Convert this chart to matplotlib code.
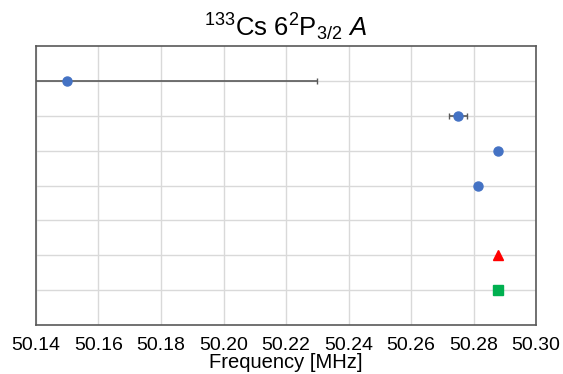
import numpy as np
import matplotlib
matplotlib.use("Agg")
import matplotlib.pyplot as plt

plt.rcParams['font.family'] = ['Liberation Sans', 'DejaVu Sans']
plt.rcParams['mathtext.fontset'] = 'custom'
plt.rcParams['mathtext.rm'] = 'Liberation Sans'
plt.rcParams['mathtext.it'] = 'Liberation Sans:italic'

# hyperfine A constant results, one row per measurement (top to bottom)
circle_freq = [50.150, 50.275, 50.288, 50.2815]
circle_err = [0.080, 0.003, 0.0, 0.0]
circle_row = [1, 2, 3, 4]
tri_freq = [50.288]
tri_row = [6]
sq_freq = [50.288]
sq_row = [7]
xticks = [50.14, 50.16, 50.18, 50.20, 50.22, 50.24, 50.26, 50.28, 50.30]

fig = plt.figure(figsize=(5.63, 3.74), dpi=100)
ax = fig.add_axes([36/563, 1-325/374, 500/563, 279/374])

ax.errorbar(circle_freq, circle_row, xerr=circle_err, fmt='o', color='#4472c4',
            ecolor='#595959', elinewidth=1.2, capsize=2, markersize=6.5, zorder=3)
ax.plot(tri_freq, tri_row, '^', color='#ff0000', markersize=7, zorder=3)
ax.plot(sq_freq, sq_row, 's', color='#00b050', markersize=6.5, zorder=3)

ax.set_xlim(50.14, 50.30)
ax.set_ylim(8, 0)
ax.set_xticks(xticks)
ax.set_xticklabels(['%.2f' % t for t in xticks], fontsize=14)
ax.set_yticks(range(1, 8))
ax.set_yticklabels([])
ax.tick_params(length=0, pad=9)
ax.grid(True, color='#d9d9d9', linewidth=1)
ax.set_axisbelow(True)
for s in ax.spines.values():
    s.set_color('#595959')
    s.set_linewidth(1.2)

ax.set_xlabel('Frequency [MHz]', fontsize=14.5, labelpad=-1)
ax.set_title(r'$^{133}$Cs 6$^2$P$_{3/2}$ $A$', fontsize=18.5, pad=7)

fig.savefig('out.png', dpi=100)
